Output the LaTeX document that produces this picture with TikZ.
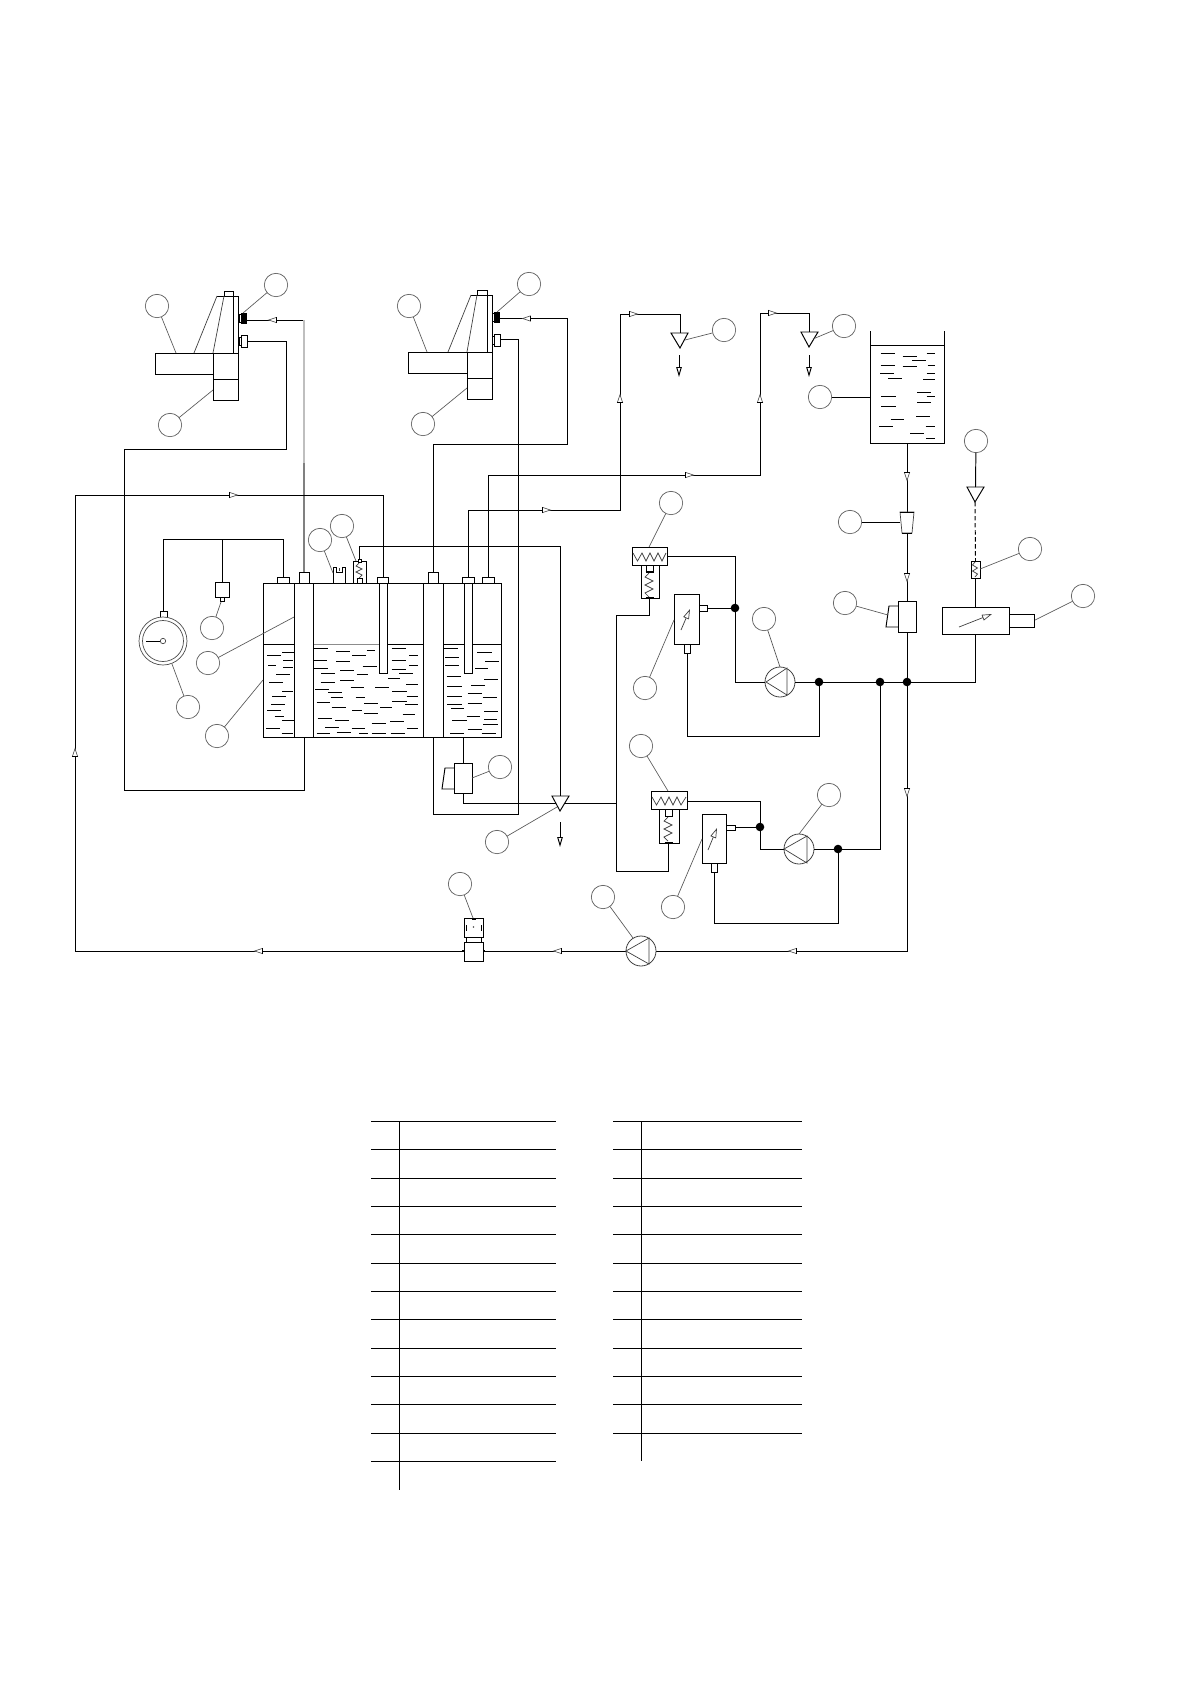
\documentclass[tikz,border=0pt]{standalone}
\usetikzlibrary{arrows.meta}
\tikzset{
  pipe/.style={draw=black,line width=0.55pt,line join=miter},
  thin part/.style={draw=black!75,line width=0.4pt},
  leader/.style={draw=black!65,line width=0.38pt},
  balloon/.style={circle,draw=black!65,line width=0.38pt,minimum size=0.468cm,inner sep=0pt,outer sep=0pt},
  partbox/.style={rectangle,draw=black,line width=0.55pt,inner sep=0pt,outer sep=0pt,fill=white},
  junction/.style={circle,fill=black,minimum size=0.172cm,inner sep=0pt,outer sep=0pt},
  pumpnode/.style={circle,draw=black!75,line width=0.45pt,minimum size=0.6cm,inner sep=0pt,outer sep=0pt,fill=white},
  gaugetip/.style={draw=black!75,line width=0.4pt,-{Triangle[open,length=0.2cm,width=0.12cm]}},
  endtip/.style={pipe,-{Triangle[open,length=0.2cm,width=0.11cm]}},
  liquid/.style={draw=black,line width=0.48pt},
  flow/.pic={\draw[draw=black!70,fill=white,line width=0.35pt] (-3.5,-2.6) -- (-3.5,2.6) -- (4.5,0) -- cycle;
             \draw[draw=black,line width=0.45pt] (-3.5,-2.6) -- (-3.5,2.6);}
}
\newcommand\partrect[5]{\node[partbox,minimum width={(#4-#2)*0.02cm},minimum height={(#5-#3)*0.02cm}] (#1) at ({(#2+#4)/2},{(#3+#5)/2}) {};}
\newcommand\balloonat[5]{\node[balloon] (#1) at (#2,#3) {}; \coordinate (#1t) at (#4,#5); \draw[leader] (#1) -- (#1t);}
\begin{document}
\begin{tikzpicture}[x=0.02cm,y=-0.02cm]
\useasboundingbox (0,0) rectangle (1191,1684);
\fill[white] (0,0) rectangle (1191,1684);

% ---- pipes first
\coordinate (tb1) at (304,737);
\coordinate (tb2) at (433,737);
\coordinate (tb3) at (463,737);
\draw[pipe] (247,341) -- (286,341) -- (286,449) -- (124,449) -- (124,790) -- (304,790) -- (tb1);
\draw[pipe] (247,320) -- (304,320);
\draw[draw=black!25,line width=0.6pt] (304,320) -- (304,463);
\draw[draw=black!50,line width=0.6pt] (304,463) -- (304,572);
\draw[pipe] (500,318) -- (567,318) -- (567,444) -- (433,444) -- (433,572);
\draw[pipe] (500,339) -- (518,339) -- (518,814) -- (433,814) -- (tb2);
\draw[pipe] (383,577) -- (383,495) -- (75,495) -- (75,951) -- (464,951);
\draw[pipe] (483,951) -- (626,951);
\draw[pipe] (656,951) -- (907,951) -- (907,632);
\draw[pipe] (468,577) -- (468,510) -- (620,510) -- (620,314) -- (680,314) -- (680,333);
\draw[pipe] (488,577) -- (488,475) -- (760,475) -- (760,313) -- (809,313) -- (809,332);
\draw[pipe] (283,577) -- (283,539) -- (163,539) -- (163,611);
\draw[pipe] (222,539) -- (222,582);
\draw[pipe] (359,559) -- (359,546) -- (560,546) -- (560,796);
\draw[pipe] (tb3) -- (463,763);
\draw[pipe] (463,793) -- (463,803) -- (616,803);
\draw[pipe] (649,598) -- (649,615) -- (616,615) -- (616,871) -- (668,871) -- (668,843);

% ---- main tank
\partrect{tank}{263}{583}{501}{737}
\foreach \a/\b/\c in {442/484/406,486/522/397,490/520/420,445/468/435,490/520/441,468/510/463,447/489/487,487/520/514,456/498/529,453/495/552,441/484/572,464/492/589,486/522/601,438/480/625,485/520/640,
 583/623/385,648/690/393,740/765/391,697/738/406,582/620/420,648/690/424,728/770/438,582/625/445,660/703/451,603/645/460,710/745/463,660/703/481,602/645/487,586/628/507,692/733/502,765/807/502,625/665/518,817/860/514,632/668/532,707/735/532,590/630/547,732/775/549,817/860/544,635/678/562,780/817/562,697/725/571,732/775/580,593/635/594,645/688/601,755/797/609,810/853/604,615/657/621,695/735/625,862/893/625,590/630/640,650/693/637,717/745/640,755/797/640,812/855/640,
 815/857/385,867/893/406,815/857/420,867/893/435,815/857/447,837/880/460,805/840/474,858/893/493,860/893/529,855/893/553,848/885/582,
 972/1015/385,1072/1115/397,975/1017/412,1095/1137/424,975/1017/435,1065/1105/446,980/1022/468,1093/1135/478,982/1025/498,1053/1095/495,982/1025/529,1043/1085/520,1088/1130/532,982/1025/553,1043/1085/550,993/1033/565,1093/1135/574,1040/1080/589,1093/1130/598,997/1040/601,1090/1133/613,1043/1085/628,990/1032/640,1085/1128/640}
  {\draw[liquid] ({120+\a/3},{520+\c/3}) -- ({120+\b/3},{520+\c/3});}
\draw[pipe] (263,644) -- (294,644);
\draw[draw=black!45,line width=0.5pt] (313,644) -- (379,644);
\draw[pipe] (387,644) -- (423,644);
\draw[pipe] (443,644) -- (501,644);
\draw[pipe] (294,583) -- (294,737);
\draw[pipe] (313,583) -- (313,737);
\draw[pipe] (423,583) -- (423,737);
\draw[pipe] (443,583) -- (443,737);
\partrect{f1}{277}{577}{289}{583}
\partrect{f2}{299}{572}{309}{583}
\partrect{f3}{377}{577}{388}{583}
\partrect{f4}{428}{572}{438}{583}
\partrect{f5}{462}{577}{474}{583}
\partrect{f6}{482}{577}{494}{583}
\partrect{tube1}{379}{583}{387}{673}
\partrect{tube2}{464}{583}{472}{673}
\draw[pipe] (333,583) -- (333,567) -- (336,567) -- (336,572) -- (342,572) -- (342,567) -- (345,567) -- (345,583);
\draw[thin part] (339,571) -- (339,568);
\partrect{ts}{353}{561}{366}{583}
\partrect{tsa}{358}{559}{361}{562}
\partrect{tsb}{357}{578.5}{362}{583}
\draw[draw=black,line width=0.9pt] (356.5,578.5) -- (362.5,578.5);
\draw[thin part] (359,563) -- (356,566) -- (362,569) -- (356,572) -- (362,575) -- (359,578);

% ---- sensor and gauge
\partrect{sens}{215}{582}{229}{597}
\partrect{sensb}{220}{597}{224}{601}
\partrect{gf}{160}{611}{167}{617}
\node[circle,draw=black!70,line width=0.4pt,minimum size=0.48cm*2,inner sep=0pt,fill=white] (g1) at (163,641) {};
\node[circle,draw=black!70,line width=0.4pt,minimum size=0.41cm*2,inner sep=0pt] (g2) at (163,641) {};
\node[circle,draw=black!70,line width=0.4pt,minimum size=0.108cm,inner sep=0pt] (g3) at (163,641) {};
\draw[pipe] (146,641) -- (g3);

% ---- unit 1
\partrect{u1blk}{155}{353}{213}{374}
\partrect{u1body}{213}{353}{238}{379}
\partrect{u1low}{213}{379}{238}{400}
\partrect{u1plate}{233}{296}{238}{353}
\partrect{u1cap}{224}{291}{233}{296}
\draw[pipe] (217,296) -- (233,296);
\draw[thin part] (217,296) -- (194,353);
\draw[thin part] (224,296) -- (213,353);
\partrect{u1fa}{239}{314}{241}{322}
\node[rectangle,fill=black,minimum width=0.12cm,minimum height=0.22cm,inner sep=0pt] (u1black) at (244,318.5) {};
\partrect{u1fb}{239}{337}{241}{345}
\partrect{u1open}{241}{335}{247}{347}

% ---- unit 2
\partrect{u2blk}{408}{352}{467}{373}
\partrect{u2body}{467}{352}{492}{378}
\partrect{u2low}{467}{378}{492}{399}
\partrect{u2plate}{487}{295}{492}{352}
\partrect{u2cap}{477}{290}{487}{295}
\draw[pipe] (471,295) -- (487,295);
\draw[thin part] (471,295) -- (448,352);
\draw[thin part] (477,295) -- (467,352);
\partrect{u2fa}{492}{313}{494}{321}
\node[rectangle,fill=black,minimum width=0.12cm,minimum height=0.22cm,inner sep=0pt] (u2black) at (497,317.5) {};
\partrect{u2fb}{492}{336}{494}{344}
\partrect{u2open}{494}{334}{500}{346}

% ---- drain triangles
\draw[pipe,fill=white] (671,333) -- (688,333) -- (680,348) -- cycle;
\draw[pipe,fill=white] (801,332) -- (818,332) -- (809,347) -- cycle;
\draw[endtip] (679,355) -- (679,377);
\draw[endtip] (809,355) -- (809,377);
\draw[pipe,fill=white] (552,796) -- (569,796) -- (560,811) -- cycle;
\draw[endtip] (560,822) -- (560,847);

% ---- bottom solenoid
\partrect{sol}{454}{763}{472}{793}
\draw[pipe] (454,768) -- (445,768) -- (442,789) -- (454,789);

% ---- head tank
\draw[pipe] (870,331) -- (870,443) -- (944,443) -- (944,331);
\draw[pipe] (870,345) -- (944,345);
\foreach \a/\b/\c in {242/284/160,308/350/169,380/405/160,336/378/181,242/285/196,308/350/199,383/405/196,241/283/220,380/405/220,264/306/235,369/405/238,351/394/277,380/405/289,243/287/289,351/394/307,243/287/319,348/390/350,272/311/358,237/279/380,377/405/380,330/372/400,378/405/415}
  {\draw[liquid] ({800+\a/3},{300+\c/3}) -- ({800+\b/3},{300+\c/3});}
\draw[pipe] (907,443) -- (907,512);
\draw[pipe] (907,533) -- (907,601);
\draw[thin part,fill=white] (900,512) -- (914,512) -- (912,533) -- (902,533) -- cycle;
\draw[pipe] (900,512) -- (914,512);
\draw[pipe] (902,533) -- (912,533);
\partrect{box2}{898}{601}{916}{632}
\draw[pipe] (898,606) -- (889,606) -- (886,627) -- (898,627);

% ---- main header
\node[pumpnode] (pump1) at (780,682) {};
\node[pumpnode] (pump2) at (799,849) {};
\node[pumpnode] (pump3) at (641,951) {};
\node[junction] (j1) at (735,608) {};
\node[junction] (j2) at (819,682) {};
\node[junction] (j3) at (880,682) {};
\node[junction] (j4) at (907,682) {};
\node[junction] (j5) at (760,827) {};
\node[junction] (j6) at (838,849) {};
\draw[pipe] (pump1) -- (j2) -- (j3) -- (j4) -- (975,682) -- (975,634);
\draw[pipe] (j3) -- (880,849) -- (j6) -- (pump2);
\draw[pipe] (667,556) -- (735,556) -- (j1) -- (735,682) -- (pump1);
\draw[pipe] (687,801) -- (760,801) -- (j5) -- (760,849) -- (pump2);
\draw[pipe] (707,608) -- (j1);
\draw[pipe] (735,827) -- (j5);
\draw[pipe] (687,653) -- (687,736) -- (819,736) -- (j2);
\draw[pipe] (714,872) -- (714,923) -- (838,923) -- (j6);
\draw[thin part] (766,682) -- (787,668) -- (787,695) -- cycle;
\draw[thin part] (784,849) -- (807,836) -- (807,863) -- cycle;
\draw[thin part] (626,951) -- (649,938) -- (649,964) -- cycle;

% ---- heaters and pressure parts 1
\partrect{h1}{632}{547}{667}{565}
\partrect{h1l}{641}{565}{659}{598}
\partrect{h1f}{646}{565}{653}{572}
\draw[draw=black,line width=0.9pt] (645.5,572) -- (653.5,572);
\draw[draw=black,line width=0.9pt] (645.5,597.5) -- (653.5,597.5);
\draw[thin part] (633,553) -- (637.5,561) -- (642,553) -- (646,561) -- (650,553) -- (654,561) -- (658,553) -- (662,561) -- (666,553);
\draw[thin part] (649,573) -- (645,577) -- (653,581) -- (645,585) -- (653,589) -- (645,593) -- (649,597);
\partrect{g1box}{674}{594}{699}{644}
\partrect{g1r}{699}{605}{707}{611}
\partrect{g1b}{684}{644}{690}{653}
\draw[gaugetip] (681,630) -- (690,609);

% ---- heaters and pressure parts 2
\partrect{h2}{651}{791}{687}{809}
\partrect{h2l}{659}{809}{679}{843}
\partrect{h2f}{665}{809}{672}{816}
\draw[draw=black,line width=0.9pt] (664.5,842.5) -- (672.5,842.5);
\draw[thin part] (652,797) -- (656.5,805) -- (661,797) -- (665,805) -- (669,797) -- (673,805) -- (677,797) -- (681,805) -- (686,797);
\draw[thin part] (668,817) -- (664,821) -- (672,825) -- (664,829) -- (672,833) -- (664,837) -- (668,841);
\partrect{g2box}{702}{814}{726}{863}
\partrect{g2r}{726}{825}{735}{830}
\partrect{g2b}{711}{863}{717}{872}
\draw[gaugetip] (708,850) -- (717,828);

% ---- compressor part, right
\partrect{filt}{971}{561}{980}{578}
\draw[thin part] (975,562) -- (972.5,565) -- (977.5,568) -- (972.5,571) -- (977.5,574) -- (975,577);
\draw[pipe,fill=white] (967,487) -- (984,487) -- (975,502) -- cycle;
\draw[pipe,dash pattern=on 2.5pt off 1.5pt] (975,502) -- (filt.north);
\partrect{comp}{942}{607}{1009}{634}
\partrect{compb}{1009}{614}{1034}{627}
\draw[pipe] (filt.south) -- (comp.north);
\draw[gaugetip] (959,627) -- (992,614);

% ---- pressure valve on return
\partrect{vt}{464}{918}{483}{937}
\partrect{vn}{466}{937}{481}{942}
\partrect{vb}{464}{942}{483}{961}
\draw[pipe] (466.5,925) -- (466.5,931);
\draw[pipe] (481,925) -- (481,931);
\fill[black!70] (473.5,927) circle (0.8);
\fill[black] (471.5,918) rectangle (475.5,919.5);
\fill[black] (462,950) rectangle (464,952);
\fill[black] (483,950) rectangle (485,952);

% ---- flow arrows
\pic[rotate=180] at (273,320) {flow};
\pic[rotate=180] at (527,318.5) {flow};
\pic at (233,495) {flow};
\pic at (546,510) {flow};
\pic at (689,475) {flow};
\pic[rotate=90] at (620,399) {flow};
\pic at (633,314) {flow};
\pic[rotate=90] at (760,399) {flow};
\pic at (772,313) {flow};
\pic[rotate=-90] at (907,476) {flow};
\pic[rotate=-90] at (907,577) {flow};
\pic[rotate=-90] at (907,792) {flow};
\pic[rotate=180] at (793,951) {flow};
\pic[rotate=180] at (558,951) {flow};
\pic[rotate=180] at (259,951) {flow};
\pic[rotate=90] at (75,753) {flow};

% ---- balloons
\balloonat{b1}{157}{306}{176}{353}
\balloonat{b2}{276}{285}{243}{313}
\balloonat{b3}{170}{425}{213}{390}
\balloonat{b4}{409}{306}{427}{352}
\balloonat{b5}{529}{284}{497}{312}
\balloonat{b6}{423}{424}{467}{388}
\balloonat{b7}{724}{330}{685}{340}
\balloonat{b8}{844}{326}{813}{339}
\balloonat{b10}{212}{628}{221}{602}
\balloonat{b11}{208}{663}{294}{617}
\balloonat{b12}{188}{707}{172}{664}
\balloonat{b13}{217}{736}{263}{680}
\balloonat{b14}{320}{540}{333}{573}
\balloonat{b15}{342}{526}{356}{561}
\balloonat{b16}{500}{767}{472}{778}
\balloonat{b17}{497}{842}{557}{807}
\balloonat{b18}{671}{503}{649}{547}
\balloonat{b19}{764}{619}{780}{667}
\balloonat{b20}{645}{688}{674}{620}
\balloonat{b22}{641}{746}{668}{791}
\balloonat{b23}{829}{795}{799}{834}
\balloonat{b24}{673}{907}{702}{839}
\balloonat{b25}{603}{897}{633}{938}
\balloonat{b26}{460}{884}{473}{918}
\balloonat{b27}{845}{603}{888}{615}
\balloonat{b28}{1030}{549}{980}{569}
\balloonat{b29}{1083}{596}{1035}{620}
\node[balloon] (b9) at (820,397) {};
\coordinate (b9t) at (870,397);
\draw[pipe] (b9) -- (b9t);
\node[balloon] (b21) at (850,522) {};
\coordinate (b21t) at (900,522);
\draw[pipe] (b21) -- (b21t);
\node[balloon] (b30) at (976,441) {};
\coordinate (b30t) at (975.5,487);
\draw[pipe] (b30) -- (b30t);

% ---- table
\foreach \y in {1121,1149,1178,1206,1234,1263,1291,1319,1348,1376,1404,1433,1461}
  {\draw[pipe] (371,\y) -- (556,\y);}
\draw[pipe] (399,1121) -- (399,1490);
\foreach \y in {1121,1149,1178,1206,1234,1263,1291,1319,1348,1376,1404,1433}
  {\draw[pipe] (613,\y) -- (802,\y);}
\draw[pipe] (641,1121) -- (641,1461);
\end{tikzpicture}
\end{document}
